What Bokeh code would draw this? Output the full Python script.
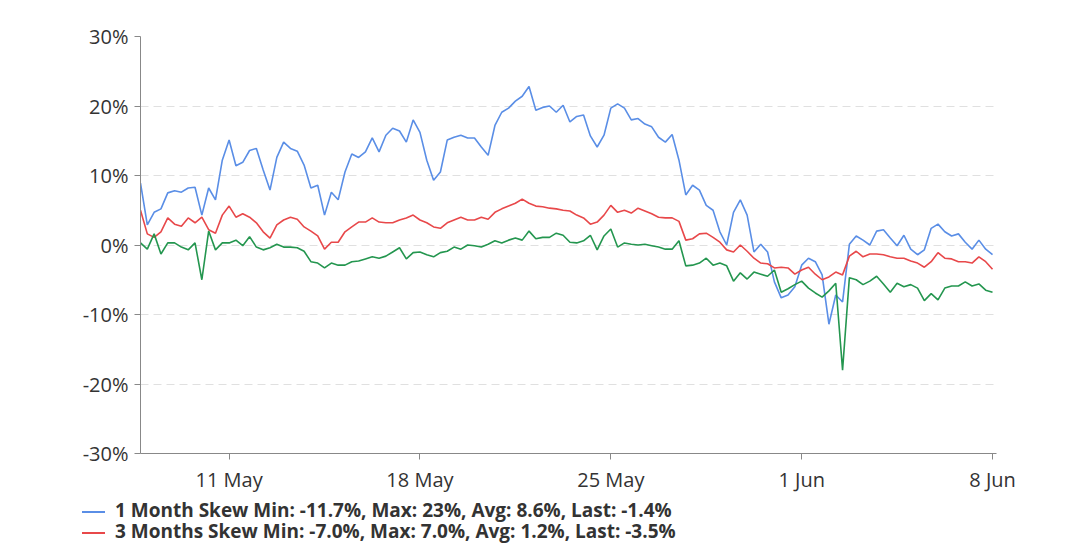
import pandas as pd
from bokeh.plotting import figure
from bokeh.layouts import column
from bokeh.models import Range1d, FixedTicker, PrintfTickFormatter, Div
from bokeh.embed import file_html
from bokeh.resources import INLINE

# ---- data: 6-hourly samples from 7 May 18:00 ----
start_time = "2021-05-07 18:00"
base_date = "2021-05-11 00:00"

skew_1m = [8.9, 2.9, 4.7, 5.2, 7.5, 7.8, 7.6, 8.2, 8.3, 4.3,
           8.2, 6.5, 12.2, 15.1, 11.4, 11.9, 13.6, 13.9, 10.8, 7.9,
           12.6, 14.8, 13.9, 13.5, 11.5, 8.2, 8.6, 4.3, 7.6, 6.5,
           10.5, 13.1, 12.6, 13.4, 15.4, 13.4, 15.8, 16.8, 16.4, 14.8,
           18.0, 16.2, 12.2, 9.3, 10.5, 15.1, 15.5, 15.8, 15.4, 15.4,
           14.1, 12.9, 17.2, 19.1, 19.7, 20.7, 21.4, 22.8, 19.4, 19.8,
           20.0, 19.1, 20.1, 17.7, 18.5, 18.7, 15.7, 14.1, 15.8, 19.7,
           20.3, 19.7, 18.0, 18.2, 17.4, 17.0, 15.5, 14.8, 15.9, 12.2,
           7.2, 8.6, 7.9, 5.7, 5.0, 1.9, 0.0, 4.7, 6.5, 4.3,
           -1.0, 0.1, -1.0, -5.3, -7.6, -7.2, -6.0, -2.9, -1.9, -2.4,
           -4.3, -11.4, -7.2, -8.2, 0.1, 1.3, 0.7, 0.0, 2.0, 2.2,
           1.0, -0.1, 1.4, -0.6, -1.4, -0.7, 2.4, 3.0, 1.9, 1.3,
           1.6, 0.4, -0.6, 0.7, -0.6, -1.4]

skew_3m = [5.0, 1.6, 1.1, 1.9, 3.9, 3.0, 2.7, 3.9, 3.2, 4.0,
           2.2, 1.7, 4.3, 5.6, 4.0, 4.5, 4.0, 3.2, 1.9, 1.0,
           2.9, 3.6, 4.0, 3.7, 2.6, 2.0, 1.3, -0.6, 0.4, 0.4,
           1.9, 2.6, 3.3, 3.3, 3.9, 3.3, 3.2, 3.2, 3.6, 3.9,
           4.3, 3.6, 3.2, 2.6, 2.4, 3.2, 3.6, 4.0, 3.6, 3.6,
           4.0, 3.7, 4.7, 5.2, 5.6, 6.0, 6.6, 6.0, 5.6, 5.5,
           5.3, 5.2, 5.0, 4.9, 4.3, 3.9, 3.0, 3.3, 4.3, 5.7,
           4.7, 5.0, 4.6, 5.3, 4.9, 4.5, 4.0, 3.9, 3.9, 3.4,
           0.7, 0.9, 1.6, 1.7, 1.1, 0.4, -0.7, -1.0, 0.0, -0.9,
           -1.9, -2.6, -2.7, -3.3, -3.2, -3.3, -4.2, -3.6, -3.2, -4.2,
           -5.0, -4.6, -3.9, -4.3, -1.6, -0.9, -1.7, -1.3, -1.3, -1.4,
           -1.7, -1.9, -1.9, -2.3, -2.6, -3.2, -2.4, -1.1, -1.9, -2.0,
           -2.4, -2.4, -2.6, -1.7, -2.4, -3.5]

skew_6m = [0.3, -0.6, 1.6, -1.3, 0.3, 0.3, -0.3, -0.7, 0.3, -5.0,
           2.0, -0.7, 0.3, 0.3, 0.7, -0.1, 1.2, -0.3, -0.7, -0.4,
           0.1, -0.3, -0.3, -0.4, -0.9, -2.4, -2.6, -3.3, -2.6, -2.9,
           -2.9, -2.4, -2.3, -2.0, -1.7, -1.9, -1.6, -1.0, -0.4, -2.0,
           -1.1, -1.0, -1.4, -1.7, -1.1, -0.9, -0.3, -0.6, 0.0, -0.1,
           -0.3, 0.1, 0.6, 0.3, 0.7, 1.0, 0.7, 2.0, 0.9, 1.1,
           1.1, 1.7, 1.4, 0.4, 0.3, 0.6, 1.4, -0.7, 1.3, 2.3,
           -0.3, 0.3, 0.1, 0.0, 0.1, -0.1, -0.3, -0.6, -0.6, 0.6,
           -3.0, -2.9, -2.6, -1.9, -2.9, -2.6, -3.0, -5.2, -4.0, -4.9,
           -3.9, -4.2, -4.5, -3.6, -6.8, -6.3, -5.7, -5.2, -6.2, -6.9,
           -7.5, -6.6, -5.5, -18.0, -4.7, -5.0, -5.7, -5.2, -4.5, -5.6,
           -6.8, -5.5, -6.0, -5.7, -6.2, -8.0, -7.0, -7.9, -6.2, -5.9,
           -5.9, -5.3, -5.9, -5.6, -6.5, -6.8]

tick_days = [0, 7, 14, 21, 28]
tick_labels = ["11 May", "18 May", "25 May", "1 Jun", "8 Jun"]
y_ticks = [-30, -20, -10, 0, 10, 20, 30]

legend_labels = ["1 Month Skew Min: -11.7%, Max: 23%, Avg: 8.6%, Last: -1.4%",
                 "3 Months Skew Min: -7.0%, Max: 7.0%, Avg: 1.2%, Last: -3.5%"]

COLOR_1M = "#5a8ee6"
COLOR_3M = "#e8484a"
COLOR_6M = "#24964f"

times = pd.date_range(start_time, periods=len(skew_1m), freq="6h")
days = list((times - pd.Timestamp(base_date)) / pd.Timedelta(days=1))

FONT = "Open Sans"

p = figure(width=1072, height=495, output_backend="svg", toolbar_location=None,
           x_range=Range1d(-3.25, 28.146), y_range=Range1d(-30, 30),
           min_border_left=140, min_border_top=36, min_border_bottom=42,
           min_border_right=76)
p.outline_line_color = None
p.background_fill_color = "white"
p.border_fill_color = "white"

r1 = p.line(days, skew_1m, line_color=COLOR_1M, line_width=1.6)
r2 = p.line(days, skew_3m, line_color=COLOR_3M, line_width=1.6)
r3 = p.line(days, skew_6m, line_color=COLOR_6M, line_width=1.6)

# axes
p.xaxis.ticker = FixedTicker(ticks=tick_days)
p.xaxis.major_label_overrides = {d: l for d, l in zip(tick_days, tick_labels)}
p.yaxis.ticker = FixedTicker(ticks=y_ticks)
p.yaxis.formatter = PrintfTickFormatter(format="%d%%")
for ax in (p.xaxis[0], p.yaxis[0]):
    ax.axis_line_color = "#888888"
    ax.major_tick_line_color = "#888888"
    ax.minor_tick_line_color = None
    ax.major_tick_in = 0
    ax.major_tick_out = 6
    ax.major_label_text_font = FONT
    ax.major_label_text_font_size = "20px"
    ax.major_label_text_color = "#333333"
p.xaxis.major_label_standoff = 6
p.yaxis.major_label_standoff = 6

p.xgrid.grid_line_color = None
p.ygrid.grid_line_color = "#e0e0e0"
p.ygrid.grid_line_dash = "8 5"
p.ygrid.ticker = FixedTicker(ticks=y_ticks)

# ---- legend strip below the chart (real HTML text) ----
rows = []
for lbl, col in zip(legend_labels, [COLOR_1M, COLOR_3M]):
    rows.append(
        '<div style="white-space:nowrap;height:21px;line-height:21px;">'
        f'<span style="display:inline-block;width:23px;height:0;border-top:2px solid {col};'
        'vertical-align:middle;margin-right:10px;"></span>'
        f'{lbl}</div>')
html = ('<div style="font-family:\'Open Sans\';font-size:19px;font-weight:bold;'
        'color:#333333;padding-top:5px;padding-left:82px;">' + "".join(rows) + '</div>')
legend_div = Div(text=html, width=1072, height=48, margin=(0, 0, 0, 0))

layout = column(p, legend_div, spacing=0)
open("out.html", "w").write(file_html(layout, INLINE))
